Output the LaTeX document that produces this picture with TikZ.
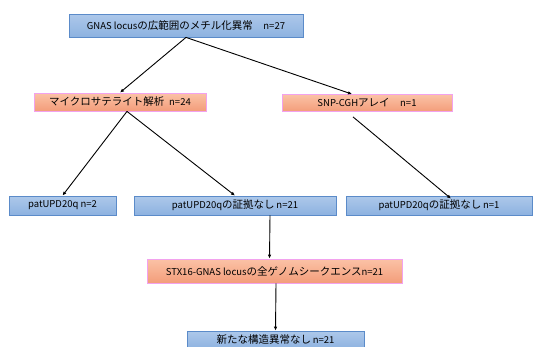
\documentclass[tikz,border=0pt]{standalone}
\usepackage{fontspec}
\setmainfont{Noto Sans CJK JP}
\usetikzlibrary{arrows.meta}
\definecolor{bluetop}{HTML}{ADC8EA}
\definecolor{bluebot}{HTML}{8DB2E0}
\definecolor{blueline}{HTML}{5B8BC9}
\definecolor{salmontop}{HTML}{FBC2A6}
\definecolor{salmonbot}{HTML}{F39D7A}
\definecolor{pinkline}{HTML}{F2A2EE}
\newcommand\lat[1]{{\fontsize{9.5}{11}\selectfont #1}}
\begin{document}
\begin{tikzpicture}[x=1pt,y=-1pt]

\tikzset{box/.style={draw,line width=0.8pt,inner sep=0pt,font=\fontsize{10.5}{12}\selectfont}}
\tikzset{bluebox/.style={box,draw=blueline,top color=bluetop,bottom color=bluebot}}
\tikzset{salmonbox/.style={box,draw=pinkline,top color=salmontop,bottom color=salmonbot}}
\tikzset{link/.style={-{Latex[length=4pt,width=3.5pt]},line width=0.9pt}}

\useasboundingbox (0,0) rectangle (536,346);

\node[bluebox,minimum width=234pt,minimum height=23pt] (broad) at (186,25.5)
  {\lat{GNAS locus}の広範囲のメチル化異常\quad\lat{n=27}};
\node[salmonbox,minimum width=172pt,minimum height=18pt] (micro) at (120,102)
  {マイクロサテライト解析\ \ \lat{n=24}};
\node[salmonbox,minimum width=170pt,minimum height=17pt] (snp) at (367,103)
  {\lat{SNP-CGH}アレイ\quad\lat{n=1}};
\node[bluebox,minimum width=107pt,minimum height=19pt] (updtwo) at (62.5,205.5)
  {\lat{patUPD20q n=2}};
\node[bluebox,minimum width=202pt,minimum height=19pt] (nomicro) at (235,205.5)
  {\lat{patUPD20q}の証拠なし\,\lat{n=21}};
\node[bluebox,minimum width=186pt,minimum height=19pt] (nosnp) at (439,205.5)
  {\lat{patUPD20q}の証拠なし\,\lat{n=1}};
\node[salmonbox,minimum width=255pt,minimum height=24pt] (seq) at (274.5,271)
  {\lat{STX16-GNAS locus}の全ゲノムシークエンス\lat{n=21}};
\node[bluebox,minimum width=177pt,minimum height=18pt] (result) at (275.5,340)
  {新たな構造異常なし\,\lat{n=21}};

\draw[link] (broad.south) -- (micro.north);
\draw[link] (broad.south) -- ([xshift=-15pt]snp.north);
\draw[link] ([xshift=7pt]micro.south) -- (updtwo.north);
\draw[link] ([xshift=7pt]micro.south) -- (nomicro.north);
\draw[link] ([xshift=-14pt,yshift=-5pt]snp.south) -- ([xshift=12pt,yshift=-3pt]nosnp.north);
\draw[link] ([xshift=35pt]nomicro.south) -- ([xshift=-5pt]seq.north);
\draw[link] ([xshift=1.5pt]seq.south) -- (result.north);

\end{tikzpicture}
\end{document}
